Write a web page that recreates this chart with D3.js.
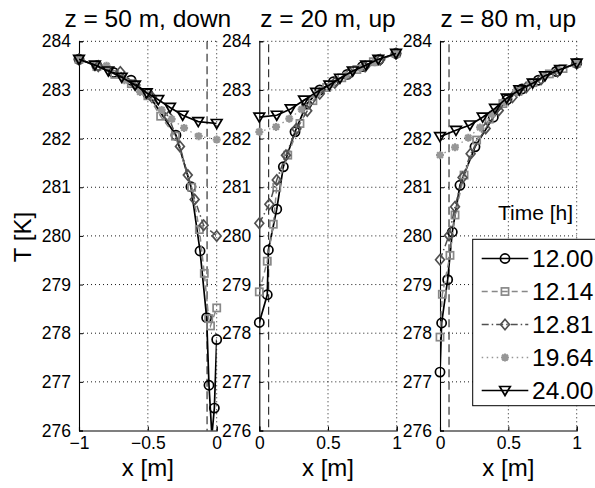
<!DOCTYPE html>
<html><head><meta charset="utf-8">
<script src="https://cdn.jsdelivr.net/npm/d3@7"></script>
<style>body{margin:0;background:#fff}svg{display:block}text{font-family:"Liberation Sans",Arial,Helvetica,sans-serif;fill:#000}</style>
</head><body><svg id="c" width="595" height="488"></svg>
<script>
// ---------- data ----------
const panelTitles = ["z = 50 m, down", "z = 20 m, up", "z = 80 m, up"];
const panelXDomains = [[-1, 0], [0, 1], [0, 1]];
const panelXTicks = [[-1, -0.5, 0], [0, 0.5, 1], [0, 0.5, 1]];
const panelXTickLabels = [["\u22121", "\u22120.5", "0"], ["0", "0.5", "1"], ["0", "0.5", "1"]];
const yTicks = [276, 277, 278, 279, 280, 281, 282, 283, 284];
const refLineX = [-0.07, 0.068, 0.066];
const seriesNames = ["12.00", "12.14", "12.81", "19.64", "24.00"];

// panel 1 : z = 50 m, down   ([x, T] pairs)
const p1_1200 = [[-1,283.63],[-0.87,283.5],[-0.75,283.36],[-0.622,283.2],[-0.5,282.92],[-0.296,282.07],[-0.187,281.01],[-0.121,279.69],[-0.073,278.32],[-0.056,276.93],[-0.035,275.9],[-0.017,276.46],[0,277.87]];
const p1_1214 = [[-1,283.63],[-0.87,283.48],[-0.74,283.32],[-0.62,283.13],[-0.5,282.88],[-0.407,282.46],[-0.3,282.05],[-0.182,281.0],[-0.126,280.13],[-0.09,279.23],[-0.058,278.30],[-0.045,278.15],[0,278.52]];
const p1_1281 = [[-1,283.63],[-0.86,283.49],[-0.70,283.37],[-0.59,283.1],[-0.47,282.85],[-0.35,282.45],[-0.267,281.84],[-0.21,281.25],[-0.16,280.75],[-0.095,280.22],[0,280.0]];
const p1_1964 = [[-1,283.63],[-0.8,283.5],[-0.67,283.2],[-0.557,282.96],[-0.40,282.59],[-0.327,282.40],[-0.237,282.22],[-0.131,282.05],[0,281.98]];
const p1_2400 = [[-1,283.63],[-0.884,283.51],[-0.787,283.39],[-0.69,283.26],[-0.593,283.10],[-0.508,282.94],[-0.424,282.80],[-0.339,282.64],[-0.247,282.48],[-0.134,282.35],[0,282.31]];

// panel 2 : z = 20 m, up
const p2_1200 = [[0,278.22],[0.058,278.79],[0.066,279.71],[0.127,280.55],[0.175,281.42],[0.26,282.14],[0.345,282.71],[0.44,283.0],[0.54,283.17],[0.64,283.32],[0.75,283.48],[0.87,283.62],[0.995,283.75]];
const p2_1214 = [[0,278.85],[0.058,279.48],[0.102,280.24],[0.127,281.0],[0.207,281.66],[0.296,282.31],[0.39,282.78],[0.49,283.05],[0.6,283.25],[0.71,283.42],[0.83,283.58],[0.995,283.75]];
const p2_1281 = [[0,280.26],[0.073,280.65],[0.127,281.15],[0.194,281.66],[0.27,282.2],[0.349,282.57],[0.44,282.92],[0.55,283.15],[0.66,283.35],[0.77,283.48],[0.88,283.62],[0.995,283.75]];
const p2_1964 = [[0,282.14],[0.122,282.24],[0.218,282.41],[0.308,282.60],[0.42,282.92],[0.53,283.13],[0.63,283.3],[0.73,283.45],[0.84,283.57],[0.995,283.75]];
const p2_2400 = [[0,282.44],[0.127,282.48],[0.228,282.61],[0.325,282.79],[0.413,282.95],[0.51,283.10],[0.587,283.24],[0.68,283.39],[0.777,283.51],[0.866,283.63],[0.995,283.75]];

// panel 3 : z = 80 m, up
const p3_1200 = [[0,277.20],[0.012,278.21],[0.056,279.10],[0.09,280.08],[0.146,281.04],[0.256,281.83],[0.39,282.44],[0.49,282.8],[0.6,283.02],[0.72,283.2],[0.85,283.38],[1,283.55]];
const p3_1214 = [[0,277.92],[0.017,278.80],[0.073,279.60],[0.11,280.43],[0.176,281.25],[0.268,281.97],[0.36,282.4],[0.46,282.72],[0.57,282.97],[0.68,283.15],[0.8,283.33],[0.9,283.44],[1,283.55]];
const p3_1281 = [[0,279.51],[0.066,280.01],[0.11,280.6],[0.165,281.2],[0.224,281.69],[0.334,282.21],[0.43,282.58],[0.53,282.85],[0.63,283.05],[0.74,283.22],[0.86,283.38],[1,283.55]];
const p3_1964 = [[0,281.66],[0.11,281.82],[0.207,282.02],[0.293,282.23],[0.38,282.5],[0.47,282.75],[0.56,282.95],[0.66,283.13],[0.76,283.28],[0.87,283.4],[1,283.55]];
const p3_2400 = [[0,282.04],[0.117,282.17],[0.219,282.28],[0.312,282.44],[0.402,282.62],[0.488,282.83],[0.58,283.0],[0.678,283.14],[0.768,283.29],[0.878,283.42],[1,283.55]];

const panelData = [
  [p1_1200, p1_1214, p1_1281, p1_1964, p1_2400],
  [p2_1200, p2_1214, p2_1281, p2_1964, p2_2400],
  [p3_1200, p3_1214, p3_1281, p3_1964, p3_2400]
];

// ---------- styles ----------
const styles = [
  {color:"#000", dash:null, marker:"circle", lw:1.7},
  {color:"#888", dash:"6,4", marker:"square", lw:1.5},
  {color:"#505050", dash:"7,3,1.5,3", marker:"diamond", lw:1.5},
  {color:"#969696", dash:"1.5,3.5", marker:"star", lw:1.3},
  {color:"#000", dash:null, marker:"triangle", lw:1.7}
];

const svg = d3.select("#c");
const panelPx = [[79, 216.7], [259.3, 396.7], [440, 576.7]];
const yTop = 41.3, yBot = 430.5;
const y = d3.scaleLinear().domain([276, 284]).range([yBot, yTop]);

function drawMarker(g, type, px, py, color) {
  const sw = 1.7;
  if (type === "circle") g.append("circle").attr("cx",px).attr("cy",py).attr("r",4.6).attr("fill","none").attr("stroke",color).attr("stroke-width",sw);
  else if (type === "square") g.append("rect").attr("x",px-3.6).attr("y",py-3.6).attr("width",7.2).attr("height",7.2).attr("fill","none").attr("stroke",color).attr("stroke-width",sw);
  else if (type === "diamond") g.append("path").attr("d",`M${px},${py-5.2}L${px+4.4},${py}L${px},${py+5.2}L${px-4.4},${py}Z`).attr("fill","none").attr("stroke",color).attr("stroke-width",sw);
  else if (type === "triangle") g.append("path").attr("d",`M${px-5.3},${py-4}L${px+5.3},${py-4}L${px},${py+5}Z`).attr("fill","none").attr("stroke",color).attr("stroke-width",sw);
  else if (type === "star") {
    const r = 4, d = 2.9;
    g.append("path").attr("d",`M${px-r},${py}L${px+r},${py}M${px},${py-r}L${px},${py+r}M${px-d},${py-d}L${px+d},${py+d}M${px-d},${py+d}L${px+d},${py-d}`).attr("stroke",color).attr("stroke-width",2.2).attr("fill","none");
  }
}

const defs = svg.append("defs");

panelPx.forEach((rng, pi) => {
  const x = d3.scaleLinear().domain(panelXDomains[pi]).range(rng);
  const g = svg.append("g");
  const x0 = rng[0], x1 = rng[1];

  // grid
  const grid = g.append("g").attr("stroke","#1a1a1a").attr("stroke-width",1).attr("stroke-dasharray","1,3");
  yTicks.forEach(t => { if (t !== 276) grid.append("line").attr("x1",x0).attr("x2",x1).attr("y1",y(t)).attr("y2",y(t)); });
  panelXTicks[pi].forEach((t,i) => { if (i>0) grid.append("line").attr("x1",x(t)).attr("x2",x(t)).attr("y1",yTop).attr("y2",yBot); });

  // reference dashed line
  g.append("line").attr("x1",x(refLineX[pi])).attr("x2",x(refLineX[pi])).attr("y1",yTop+ (pi===0?0:3)).attr("y2",yBot)
    .attr("stroke","#222").attr("stroke-width",1.1).attr("stroke-dasharray","8,4.5");

  // clip
  defs.append("clipPath").attr("id","clip"+pi).append("rect").attr("x",x0).attr("y",yTop).attr("width",x1-x0).attr("height",yBot-yTop);

  // axes
  const yAxis = d3.axisLeft(y).tickValues(yTicks).tickSize(-4).tickPadding(8).tickFormat(d3.format("d"));
  const ya = g.append("g").attr("transform",`translate(${x0},0)`).call(yAxis);
  ya.select(".domain").attr("stroke","#000").attr("stroke-width",1.1);
  ya.selectAll(".tick line").attr("stroke","#000");
  ya.selectAll("text").attr("font-size","17.5px").attr("font-family","Liberation Sans, Arial, sans-serif").attr("fill","#000");

  const xAxis = d3.axisBottom(x).tickValues(panelXTicks[pi]).tickSize(-4).tickPadding(6).tickFormat((d,i)=>panelXTickLabels[pi][i]);
  const xa = g.append("g").attr("transform",`translate(0,${yBot})`).call(xAxis);
  xa.select(".domain").attr("stroke","#000").attr("stroke-width",1.1);
  xa.selectAll(".tick line").attr("stroke","#000");
  xa.selectAll("text").attr("font-size","17.5px").attr("font-family","Liberation Sans, Arial, sans-serif").attr("fill","#000");

  // series
  const line = d3.line().x(d=>x(d[0])).y(d=>y(d[1]));
  panelData[pi].forEach((data, si) => {
    const st = styles[si];
    const sg = g.append("g");
    sg.append("path").attr("d", line(data)).attr("fill","none").attr("stroke",st.color).attr("stroke-width",st.lw)
      .attr("stroke-dasharray", st.dash).attr("clip-path",`url(#clip${pi})`);
    data.forEach(d => {
      if (d[1] >= 276 && d[1] <= 284) drawMarker(sg, st.marker, x(d[0]), y(d[1]), st.color);
    });
  });

  // title
  g.append("text").attr("x",(x0+x1)/2).attr("y",26.5).attr("text-anchor","middle").attr("font-size","24.5px").text(panelTitles[pi]);
  // x label
  g.append("text").attr("x",(x0+x1)/2).attr("y",476).attr("text-anchor","middle").attr("font-size","24px").text("x [m]");
});

// y label
svg.append("text").attr("transform","translate(31,237) rotate(-90)").attr("text-anchor","middle").attr("font-size","24px").text("T [K]");

// legend
svg.append("text").attr("x",498).attr("y",220).attr("font-size","21px").text("Time [h]");
const lg = svg.append("g");
lg.append("rect").attr("x",472.7).attr("y",239.3).attr("width",140).attr("height",166.4).attr("fill","#fff").attr("stroke","#000").attr("stroke-width",1);
const rowY = [258.5, 291.5, 324.5, 357.5, 390.5];
seriesNames.forEach((name, i) => {
  const st = styles[i];
  lg.append("line").attr("x1",481.7).attr("x2",528.3).attr("y1",rowY[i]).attr("y2",rowY[i]).attr("stroke",st.color)
    .attr("stroke-width",st.lw).attr("stroke-dasharray",st.dash);
  drawMarker(lg, st.marker, 505, rowY[i], st.color);
  lg.append("text").attr("x",532).attr("y",rowY[i]).attr("dy","0.36em").attr("font-size","24.5px").text(name);
});
</script></body></html>
